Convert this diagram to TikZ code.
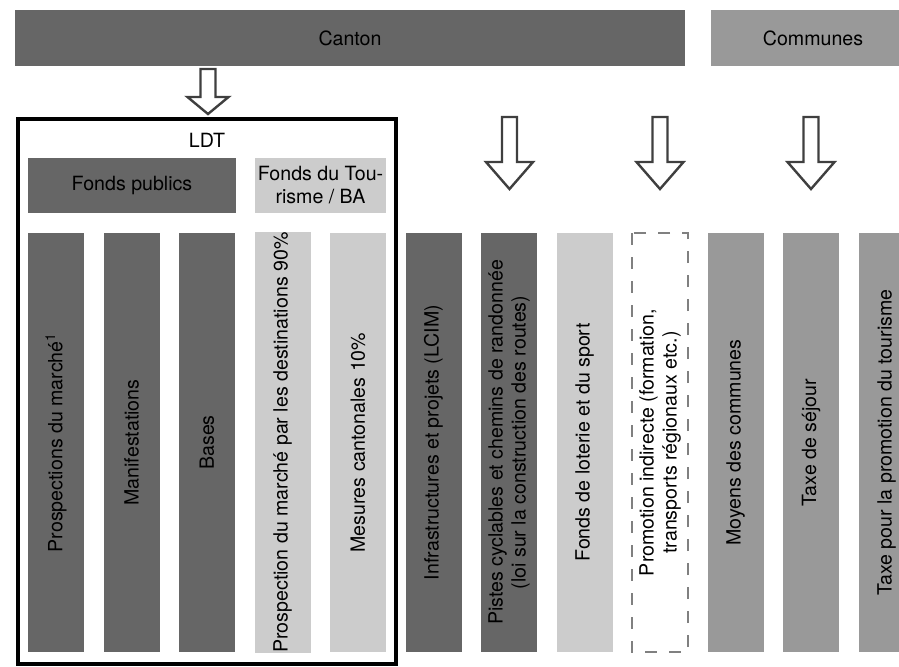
\documentclass[tikz,border=0pt]{standalone}
\usepackage{fontspec}
\setmainfont{TeX Gyre Heros}
\definecolor{darkfill}{HTML}{666666}
\definecolor{midfill}{HTML}{999999}
\definecolor{lightfill}{HTML}{CCCCCC}
\definecolor{arrowline}{HTML}{3F3F3F}
\definecolor{dashline}{HTML}{808080}

\begin{document}
\begin{tikzpicture}[
    x=0.5pt,
    y=-0.5pt,
    font=\fontsize{9.8}{11.5}\selectfont,
    band/.style={
        rectangle,
        minimum height=28pt,
        inner sep=0pt
    },
    fund/.style={
        rectangle,
        minimum height=27.5pt,
        inner sep=0pt,
        align=center
    },
    column/.style={
        rectangle,
        rotate=90,
        minimum width=209.5pt,
        minimum height=28pt,
        inner sep=0pt,
        align=center
    },
    darkcol/.style={column, fill=darkfill},
    midcol/.style={column, fill=midfill},
    lightcol/.style={column, fill=lightfill},
    dashcol/.style={
        column,
        draw=dashline,
        line width=0.75pt,
        dash pattern=on 6pt off 6pt
    },
    frame/.style={
        draw=black,
        rectangle,
        line width=2pt,
        inner sep=0pt
    },
    bigarrow/.style={
        draw=arrowline,
        fill=white,
        line width=1.2pt,
        line join=miter
    },
    label/.style={
        inner sep=1pt
    }
]

\clip (0,0) rectangle (899,666);

% ============================================================
% Top: sources
% ============================================================

\node[band, fill=darkfill, minimum width=335pt] (canton)   at (350,38) {Canton};
\node[band, fill=midfill,  minimum width=102pt] (communes) at (813,38) {Communes};

% ============================================================
% LDT frame with its two funds
% ============================================================

\node[frame, minimum width=189pt, minimum height=272.5pt] (ldt) at (207,391.5) {};
\node[label] (ldtlabel) at (207,140) {LDT};

\node[fund, fill=darkfill,  minimum width=104pt]  (publics)  at (132,185.5)   {Fonds publics};
\node[fund, fill=lightfill, minimum width=65.5pt] (tourisme) at (320.5,185.5) {Fonds du Tou-\\risme / BA};

% ============================================================
% Columns
% ============================================================

\foreach \i/\sty/\txt in {
    1/darkcol/{Prospections du marché\textsuperscript{1}},
    2/darkcol/{Manifestations},
    3/darkcol/{Bases},
    4/lightcol/{Prospection du marché par les destinations 90\%},
    5/lightcol/{Mesures cantonales 10\%},
    6/darkcol/{Infrastructures et projets (LCIM)},
    7/darkcol/{Pistes cyclables et chemins de randonnée\\(loi sur la construction des routes)},
    8/lightcol/{Fonds de loterie et du sport},
    9/dashcol/{Promotion indirecte (formation,\\transports régionaux etc.)},
    10/midcol/{Moyens des communes},
    11/midcol/{Taxe de séjour},
    12/midcol/{Taxe pour la promotion du tourisme}} {
    \node[\sty] (col\i) at ({56+75.5*(\i-1)},442.5) {\txt};
}

% ============================================================
% Block arrows
% ============================================================

\foreach \x/\top/\neck/\tip/\head in {208/69/97/114/20.5,
    509.5/117/162/189/23.5, 660/117/162/189/23.5, 811/117/162/189/23.5} {
    \draw[bigarrow] (\x-7.5,\top) -- (\x+7.5,\top) -- (\x+7.5,\neck)
        -- (\x+\head,\neck) -- (\x,\tip) -- (\x-\head,\neck)
        -- (\x-7.5,\neck) -- cycle;
}
\end{tikzpicture}
\end{document}
